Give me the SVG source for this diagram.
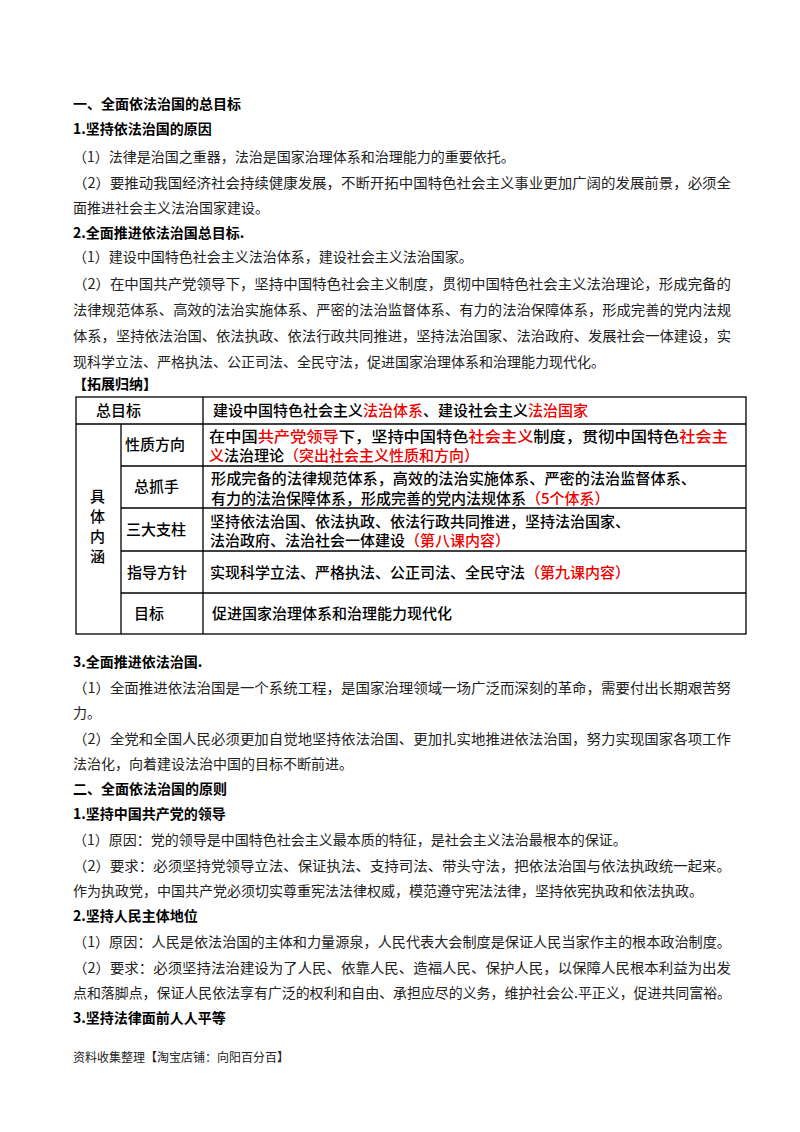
<svg xmlns="http://www.w3.org/2000/svg" width="800" height="1132" viewBox="0 0 800 1132">
<style>
text{font-family:"Noto Sans CJK SC","Liberation Sans",sans-serif;font-size:14px;fill:#222}
.h{font-weight:bold;fill:#000}
.t{font-size:15px;fill:#000;font-weight:500}
.r{fill:#e00}
.g{stroke:#000;stroke-width:1.3;fill:none}
.f{font-size:12px}
</style>
<rect width="800" height="1132" fill="#fff"/>
<g id="text1">
<text class="h" x="73" y="109">一、全面依法治国的总目标</text>
<text class="h" x="73" y="134">1.坚持依法治国的原因</text>
<text x="73" y="162">（1）法律是治国之重器，法治是国家治理体系和治理能力的重要依托。</text>
<text x="73" y="188" textLength="658" lengthAdjust="spacingAndGlyphs">（2）要推动我国经济社会持续健康发展，不断开拓中国特色社会主义事业更加广阔的发展前景，必须全</text>
<text x="73" y="213">面推进社会主义法治国家建设。</text>
<text class="h" x="73" y="238">2.全面推进依法治国总目标.</text>
<text x="73" y="262">（1）建设中国特色社会主义法治体系，建设社会主义法治国家。</text>
<text x="73" y="289" textLength="658" lengthAdjust="spacingAndGlyphs">（2）在中国共产党领导下，坚持中国特色社会主义制度，贯彻中国特色社会主义法治理论，形成完备的</text>
<text x="73" y="315" textLength="658" lengthAdjust="spacingAndGlyphs">法律规范体系、高效的法治实施体系、严密的法治监督体系、有力的法治保障体系，形成完善的党内法规</text>
<text x="73" y="341" textLength="658" lengthAdjust="spacingAndGlyphs">体系，坚持依法治国、依法执政、依法行政共同推进，坚持法治国家、法治政府、发展社会一体建设，实</text>
<text x="73" y="367">现科学立法、严格执法、公正司法、全民守法，促进国家治理体系和治理能力现代化。</text>
<text class="h" x="73" y="389">【拓展归纳】</text>
</g>
<g id="table">
<rect class="g" x="76" y="397" width="670" height="237"/>
<line class="g" x1="203" y1="397" x2="203" y2="634"/>
<line class="g" x1="121" y1="424" x2="121" y2="634"/>
<line class="g" x1="76" y1="424" x2="746" y2="424"/>
<line class="g" x1="121" y1="466" x2="746" y2="466"/>
<line class="g" x1="121" y1="508" x2="746" y2="508"/>
<line class="g" x1="121" y1="551" x2="746" y2="551"/>
<line class="g" x1="121" y1="593" x2="746" y2="593"/>
<text class="t" x="96" y="416">总目标</text>
<text class="t" x="213" y="416">建设中国特色社会主义<tspan class="r">法治体系</tspan>、建设社会主义<tspan class="r">法治国家</tspan></text>
<text class="t" x="125" y="450">性质方向</text>
<text class="t" x="209" y="442" textLength="519" lengthAdjust="spacingAndGlyphs">在中国<tspan class="r">共产党领导</tspan>下，坚持中国特色<tspan class="r">社会主义</tspan>制度，贯彻中国特色<tspan class="r">社会主</tspan></text>
<text class="t" x="209" y="461"><tspan class="r">义</tspan>法治理论<tspan class="r">（突出社会主义性质和方向）</tspan></text>
<text class="t" x="134" y="492">总抓手</text>
<text class="t" x="211" y="484" textLength="485" lengthAdjust="spacingAndGlyphs">形成完备的法律规范体系，高效的法治实施体系、严密的法治监督体系、</text>
<text class="t" x="211" y="504">有力的法治保障体系，形成完善的党内法规体系<tspan class="r">（5个体系）</tspan></text>
<text class="t" x="126" y="535">三大支柱</text>
<text class="t" x="210" y="527">坚持依法治国、依法执政、依法行政共同推进，坚持法治国家、</text>
<text class="t" x="210" y="546">法治政府、法治社会一体建设<tspan class="r">（第八课内容）</tspan></text>
<text class="t" x="127" y="578">指导方针</text>
<text class="t" x="210" y="578">实现科学立法、严格执法、公正司法、全民守法<tspan class="r">（第九课内容）</tspan></text>
<text class="t" x="134" y="619">目标</text>
<text class="t" x="212" y="619">促进国家治理体系和治理能力现代化</text>
<text class="t" x="90" y="502">具</text>
<text class="t" x="90" y="522">体</text>
<text class="t" x="90" y="542">内</text>
<text class="t" x="90" y="562">涵</text>
</g>
<g id="text2">
<text class="h" x="73" y="667">3.全面推进依法治国.</text>
<text x="73" y="693" textLength="658" lengthAdjust="spacingAndGlyphs">（1）全面推进依法治国是一个系统工程，是国家治理领域一场广泛而深刻的革命，需要付出长期艰苦努</text>
<text x="73" y="718">力。</text>
<text x="73" y="744" textLength="658" lengthAdjust="spacingAndGlyphs">（2）全党和全国人民必须更加自觉地坚持依法治国、更加扎实地推进依法治国，努力实现国家各项工作</text>
<text x="73" y="769">法治化，向着建设法治中国的目标不断前进。</text>
<text class="h" x="73" y="794">二、全面依法治国的原则</text>
<text class="h" x="73" y="819">1.坚持中国共产党的领导</text>
<text x="73" y="845">（1）原因：党的领导是中国特色社会主义最本质的特征，是社会主义法治最根本的保证。</text>
<text x="73" y="871" textLength="658" lengthAdjust="spacingAndGlyphs">（2）要求：必须坚持党领导立法、保证执法、支持司法、带头守法，把依法治国与依法执政统一起来。</text>
<text x="73" y="896">作为执政党，中国共产党必须切实尊重宪法法律权威，模范遵守宪法法律，坚持依宪执政和依法执政。</text>
<text class="h" x="73" y="921">2.坚持人民主体地位</text>
<text x="73" y="947" textLength="658" lengthAdjust="spacingAndGlyphs">（1）原因：人民是依法治国的主体和力量源泉，人民代表大会制度是保证人民当家作主的根本政治制度。</text>
<text x="73" y="973" textLength="658" lengthAdjust="spacingAndGlyphs">（2）要求：必须坚持法治建设为了人民、依靠人民、造福人民、保护人民，以保障人民根本利益为出发</text>
<text x="73" y="998" textLength="658" lengthAdjust="spacingAndGlyphs">点和落脚点，保证人民依法享有广泛的权利和自由、承担应尽的义务，维护社会公.平正义，促进共同富裕。</text>
<text class="h" x="73" y="1023">3.坚持法律面前人人平等</text>
<text class="f" x="73" y="1062">资料收集整理【淘宝店铺：向阳百分百】</text>
</g>
</svg>
